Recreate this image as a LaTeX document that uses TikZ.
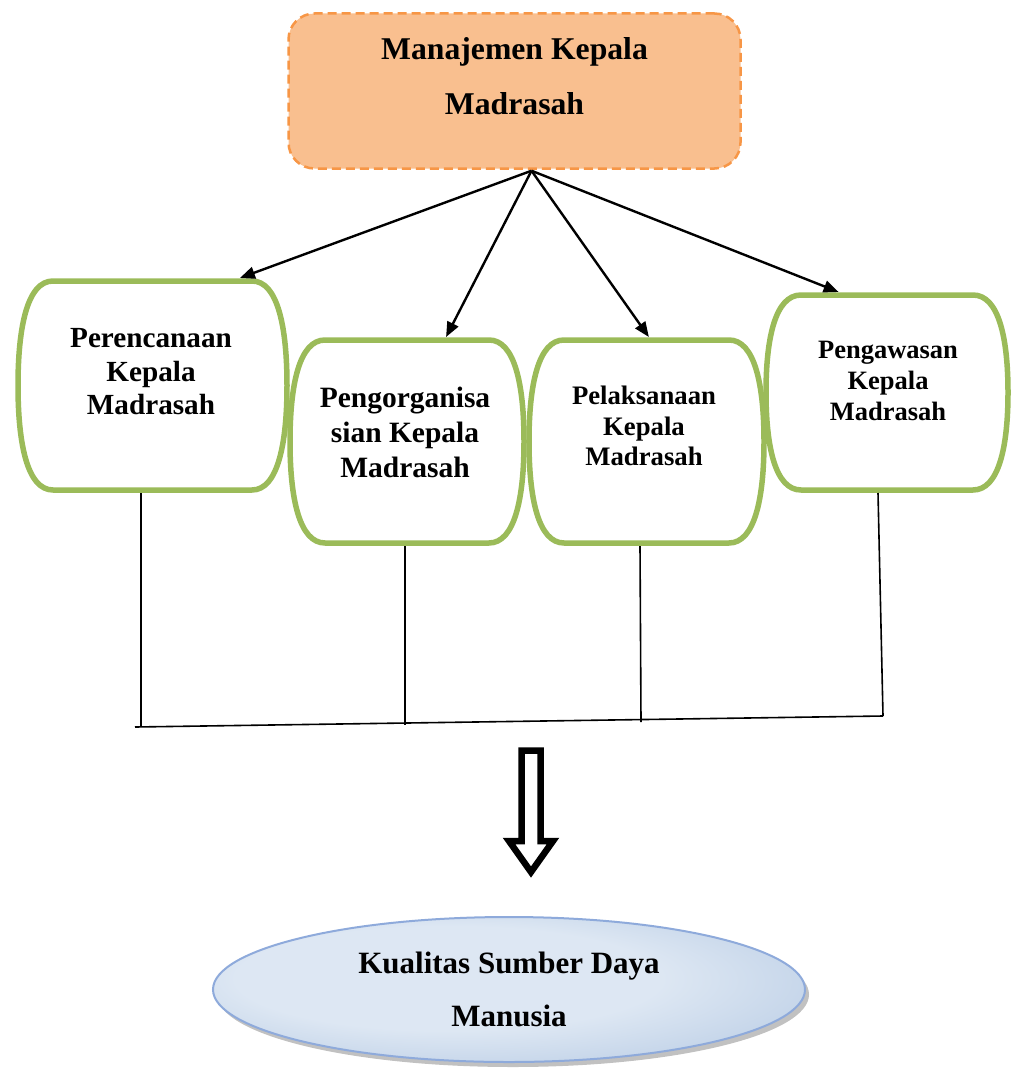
\documentclass[tikz,border=0pt]{standalone}
\usepackage{fontspec}
\setmainfont{Liberation Serif}
\usepackage{xcolor}
\usetikzlibrary{positioning, shapes.geometric, arrows.meta, calc, shadows}
\definecolor{mgrfill}{HTML}{F9BF8F}
\definecolor{mgrline}{HTML}{F79646}
\definecolor{stepgreen}{HTML}{9BBB59}
\definecolor{qualline}{HTML}{8EAADB}
\definecolor{qualmid}{HTML}{DDE7F3}
\definecolor{qualright}{HTML}{A6BEDD}
\pgfdeclareradialshading{qualshade}{\pgfpoint{-8bp}{6bp}}{%
  color(0bp)=(qualmid); color(18bp)=(qualmid); color(38bp)=(qualright!75!qualmid); color(50bp)=(qualright)}
\newcommand{\sideframe}[1]{%
  \draw[sideline] ($(#1.north west)+(35,0)$) -- ($(#1.north east)+(-35,0)$)
    .. controls ($(#1.north east)+(-9,0)$) and ($(#1.east)!.55!(#1.north east)$) .. (#1.east)
    .. controls ($(#1.east)!.55!(#1.south east)$) and ($(#1.south east)+(-9,0)$) .. ($(#1.south east)+(-35,0)$)
    -- ($(#1.south west)+(35,0)$)
    .. controls ($(#1.south west)+(9,0)$) and ($(#1.west)!.55!(#1.south west)$) .. (#1.west)
    .. controls ($(#1.west)!.55!(#1.north west)$) and ($(#1.north west)+(9,0)$) .. cycle;
}

\begin{document}
\begin{tikzpicture}[
  x=1pt, y=-1pt,
  mgrbox/.style={draw=mgrline, fill=mgrfill, dash pattern=on 9pt off 5pt, line width=2.5pt,
                 rounded corners=26pt, minimum width=452pt, minimum height=155pt, inner sep=0pt},
  stepbox/.style={inner sep=0pt, outer sep=0pt},
  sideline/.style={draw=stepgreen, fill=white, line width=5.5pt},
  link/.style={-{Triangle[length=15pt, width=12pt]}, line width=2.4pt},
  tie/.style={line width=1.6pt},
  qualbox/.style={ellipse, draw=qualline, line width=2pt, shading=qualshade,
                  drop shadow={shadow xshift=4pt, shadow yshift=-5pt, fill=gray!70, opacity=.7},
                  minimum width=592pt, minimum height=145pt, inner sep=0pt, align=center,
                  font=\bfseries\fontsize{31}{53}\selectfont}
]
  \useasboundingbox (0,0) rectangle (1012,1070);
  \node[mgrbox] (mgr) at (514.5,91) {};
  \node[align=center, font=\bfseries\fontsize{31.7}{55}\selectfont] (mgrtext) at (514.5,76) {Manajemen Kepala\\Madrasah};
  \coordinate (hub) at ($(mgr.south)+(17,1)$);

  \node[stepbox, minimum width=269pt, minimum height=209pt] (plan) at (152.5,385.5) {};
  \node[stepbox, minimum width=234pt, minimum height=203pt] (org) at (407,441.5) {};
  \node[stepbox, minimum width=235pt, minimum height=203pt] (act) at (646.5,441.5) {};
  \node[stepbox, minimum width=242pt, minimum height=195pt] (ctrl) at (887,392.5) {};
  \sideframe{plan}
  \sideframe{org}
  \sideframe{act}
  \sideframe{ctrl}
  \node[align=center, font=\bfseries\fontsize{29.2}{33.5}\selectfont] (plantext) at (151,372) {Perencanaan\\Kepala\\Madrasah};
  \node[align=center, font=\bfseries\fontsize{29.5}{35}\selectfont] (orgtext) at (405,432) {Pengorganisa\\sian Kepala\\Madrasah};
  \node[align=center, font=\bfseries\fontsize{26.7}{30.5}\selectfont] (acttext) at (644,426) {Pelaksanaan\\Kepala\\Madrasah};
  \node[align=center, font=\bfseries\fontsize{26.5}{31}\selectfont] (ctrltext) at (888,381) {Pengawasan\\Kepala\\Madrasah};

  \draw[link] (hub) -- ($(plan.north west)!.825!(plan.north east)+(0,-3)$);
  \draw[link] (hub) -- ($(org.north west)!.667!(org.north east)+(0,-3)$);
  \draw[link] (hub) -- ($(act.north west)!.51!(act.north east)+(0,-3)$);
  \draw[link] (hub) -- ($(ctrl.north west)!.30!(ctrl.north east)+(0,-3)$);

  \coordinate (j1) at (141,727);
  \coordinate (j2) at (405,725);
  \coordinate (j3) at (641,722);
  \coordinate (j4) at (883,716);
  \coordinate (barL) at (135,727);
  \draw[tie] ($(plan.south)+(-11.5,3)$) -- (j1);
  \draw[tie] ($(org.south)+(-2,3)$) -- (j2);
  \draw[tie] ($(act.south)+(-6.5,3)$) -- (j3);
  \draw[tie] ($(ctrl.south)+(-9,3)$) -- (j4);
  \draw[tie] (barL) -- (j4);

  \draw[line width=6.5pt, fill=white] (521.5,750.5) -- (540.5,750.5) -- (540.5,841) -- (553,841)
    -- (531,872) -- (509,841) -- (521.5,841) -- cycle;

  \node[qualbox] (qual) at (509,989.5) {Kualitas Sumber Daya\\Manusia};
\end{tikzpicture}
\end{document}
